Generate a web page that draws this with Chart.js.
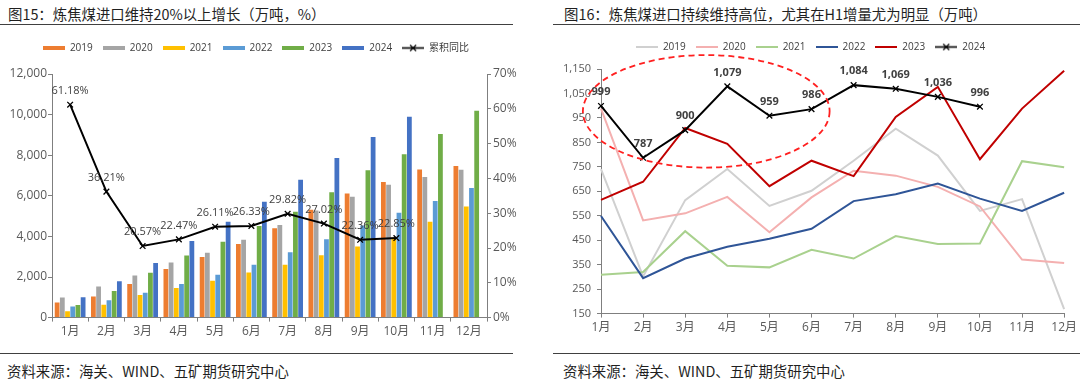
<!DOCTYPE html>
<html>
<head>
<meta charset="utf-8">
<script src="https://cdn.jsdelivr.net/npm/chart.js@4.4.1/dist/chart.umd.min.js"></script>
<style>
  body { margin: 0; background: #fff; width: 1080px; height: 381px; position: relative; overflow: hidden;
         font-family: "Noto Sans CJK SC", sans-serif; }
  .title { position: absolute; top: 3px; font-size: 14.4px; color: #1f1f1f; white-space: nowrap; }
  .rule { position: absolute; height: 0; border-top: 1.5px solid #404040; }
  .src { position: absolute; top: 360px; font-size: 14.4px; color: #1f1f1f; white-space: nowrap; }
  canvas { position: absolute; }
</style>
</head>
<body>
<div class="title" style="left:8px">图15：炼焦煤进口维持20%以上增长（万吨，%）</div>
<div class="rule" style="left:0;width:513px;top:24px"></div>
<div class="title" style="left:564px">图16：炼焦煤进口持续维持高位，尤其在H1增量尤为明显（万吨）</div>
<div class="rule" style="left:553px;width:527px;top:24px"></div>

<canvas id="cumChart" width="540" height="312" style="left:0;top:33px"></canvas>
<canvas id="monthChart" width="540" height="312" style="left:540px;top:32px"></canvas>

<div class="rule" style="left:0;width:513px;top:353px"></div>
<div class="src" style="left:7px">资料来源：海关、WIND、五矿期货研究中心</div>
<div class="rule" style="left:553px;width:527px;top:353px"></div>
<div class="src" style="left:563px">资料来源：海关、WIND、五矿期货研究中心</div>

<script>
// categories
const months = ['1月', '2月', '3月', '4月', '5月', '6月', '7月', '8月', '9月', '10月', '11月', '12月'];
const years = ['2019', '2020', '2021', '2022', '2023', '2024'];

// cumulative imports (万吨)
const cum2019 = [740, 1040, 1650, 2390, 2980, 3630, 4400, 5310, 6110, 6680, 7300, 7470];
const cum2020 = [990, 1530, 2080, 2710, 3200, 3830, 4560, 5280, 5950, 6540, 6920, 7280];
const cum2021 = [310, 630, 1110, 1460, 1810, 2220, 2600, 3070, 3500, 3940, 4720, 5470];
const cum2022 = [550, 850, 1230, 1650, 2110, 2600, 3220, 3860, 4540, 5160, 5740, 6390];
const cum2023 = [620, 1310, 2210, 3060, 3740, 4510, 5220, 6180, 7260, 8050, 9040, 10190];
const cum2024 = [1000, 1790, 2690, 3770, 4720, 5710, 6790, 7860, 8900, 9900];
// cumulative yoy (%)
const cumYoY = [61.18, 36.21, 20.57, 22.47, 26.11, 26.33, 29.82, 27.02, 22.36, 22.85];

// monthly imports (万吨)
const mon2019 = [741, 302, 614, 741, 590, 652, 775, 906, 796, 570, 618, 168];
const mon2020 = [988, 531, 560, 627, 483, 625, 734, 714, 668, 588, 371, 357];
const mon2021 = [309, 320, 487, 346, 339, 411, 375, 467, 435, 437, 773, 748];
const mon2022 = [549, 295, 375, 423, 456, 497, 610, 638, 682, 620, 570, 644];
const mon2023 = [615, 689, 909, 844, 671, 775, 712, 954, 1077, 781, 988, 1143];
const mon2024 = [999, 787, 900, 1079, 959, 986, 1084, 1069, 1036, 996];

// ticks
const cumTicks = [0, 2000, 4000, 6000, 8000, 10000, 12000];
const yoyTicks = [0, 10, 20, 30, 40, 50, 60, 70];
const monTicks = [150, 250, 350, 450, 550, 650, 750, 850, 950, 1050, 1150];

// H1 highlight area, in data units (category index / 万吨)
const h1From = -0.43, h1To = 5.43, h1Low = 747, h1High = 1207;

const barColors = ['#ED7D31', '#A5A5A5', '#FFC000', '#5B9BD5', '#70AD47', '#4472C4'];
const lineColors = ['#D0D0D0', '#F4B0B0', '#A9D18E', '#2F5597', '#C00000', '#000000'];

const numFont = 'Open Sans, "Noto Sans CJK SC", sans-serif';
const axisColor = '#7f7f7f';
const tickColor = '#595959';

function swatch(color, w, h) {
    const c = document.createElement('canvas');
    c.width = w; c.height = h;
    const g = c.getContext('2d');
    g.fillStyle = color;
    g.fillRect(0, 0, w, h);
    return c;
}
function crossSwatch(color) {
    const c = document.createElement('canvas');
    c.width = 22; c.height = 9;
    const g = c.getContext('2d');
    g.strokeStyle = color;
    g.lineWidth = 1.6;
    g.beginPath(); g.moveTo(0, 4.5); g.lineTo(22, 4.5); g.stroke();
    g.lineWidth = 1.2;
    g.beginPath();
    g.moveTo(8, 1.5); g.lineTo(14, 7.5);
    g.moveTo(14, 1.5); g.lineTo(8, 7.5);
    g.stroke();
    return c;
}

// extra room under the legend, and a sideways nudge of the legend row
function legendPush(extra, shift) {
    return {
        id: 'legendPush',
        beforeInit(chart) {
            const fit = chart.legend.fit;
            chart.legend.fit = function () {
                fit.bind(chart.legend)();
                this.height += extra;
            };
        },
        afterLayout(chart) {
            chart.legend.left += shift;
            chart.legend.right += shift;
        }
    };
}

const pointLabels = {
    id: 'pointLabels',
    afterDatasetsDraw(chart) {
        const ctx = chart.ctx;
        chart.data.datasets.forEach((ds, i) => {
            if (!ds.labelFormat) return;
            const meta = chart.getDatasetMeta(i);
            ctx.save();
            ctx.font = ds.labelFont;
            ctx.fillStyle = '#404040';
            ctx.textAlign = 'center';
            ctx.textBaseline = 'middle';
            meta.data.forEach((pt, j) => {
                const v = ds.data[j];
                if (v == null) return;
                ctx.fillText(ds.labelFormat(v), pt.x, pt.y - 14);
            });
            ctx.restore();
        });
    }
};

const h1Ellipse = {
    id: 'h1Ellipse',
    afterDatasetsDraw(chart) {
        const x = chart.scales.x, y = chart.scales.y;
        const x0 = x.getPixelForValue(h1From), x1 = x.getPixelForValue(h1To);
        const y0 = y.getPixelForValue(h1High), y1 = y.getPixelForValue(h1Low);
        const ctx = chart.ctx;
        ctx.save();
        ctx.strokeStyle = '#FF2020';
        ctx.lineWidth = 1.8;
        ctx.setLineDash([6, 4]);
        ctx.beginPath();
        ctx.ellipse((x0 + x1) / 2, (y0 + y1) / 2, (x1 - x0) / 2, (y1 - y0) / 2, 0, 0, Math.PI * 2);
        ctx.stroke();
        ctx.restore();
    }
};

function axisGrid() {
    return { display: true, drawOnChartArea: false, drawTicks: true, tickLength: 4, color: axisColor };
}

// ---------- left: cumulative bars + yoy line ----------
const cumSeries = [cum2019, cum2020, cum2021, cum2022, cum2023, cum2024];
const cumDatasets = cumSeries.map((d, i) => ({
    type: 'bar',
    label: years[i],
    data: d,
    backgroundColor: barColors[i],
    yAxisID: 'y',
    categoryPercentage: 0.86,
    barPercentage: 0.92,
    order: 1
}));
cumDatasets.push({
    type: 'line',
    label: '累积同比',
    data: cumYoY,
    yAxisID: 'y1',
    borderColor: '#000',
    borderWidth: 2,
    pointStyle: 'crossRot',
    pointRadius: 4,
    pointBorderColor: '#000',
    pointBorderWidth: 1.3,
    tension: 0,
    order: 0,
    labelFormat: v => v.toFixed(2) + '%',
    labelFont: '11px ' + numFont
});

new Chart(document.getElementById('cumChart'), {
    data: { labels: months, datasets: cumDatasets },
    options: {
        responsive: false,
        animation: false,
        layout: { padding: { left: 0, right: 0, top: 0, bottom: 3 } },
        plugins: {
            tooltip: { enabled: false },
            legend: {
                position: 'top',
                labels: {
                    usePointStyle: true,
                    pointStyleWidth: 22,
                    padding: 10,
                    color: '#404040',
                    font: { size: 10, family: numFont },
                    generateLabels(chart) {
                        return chart.data.datasets.map((ds, i) => ({
                            text: ds.label,
                            pointStyle: ds.type === 'line' ? crossSwatch('#000') : swatch(ds.backgroundColor, 22, 4),
                            fillStyle: 'transparent',
                            strokeStyle: 'transparent',
                            lineWidth: 0,
                            fontColor: '#404040',
                            hidden: false,
                            datasetIndex: i
                        }));
                    }
                }
            }
        },
        scales: {
            x: {
                grid: Object.assign(axisGrid(), { offset: true }),
                border: { color: axisColor },
                ticks: { color: tickColor, font: { size: 12, family: numFont }, padding: 3, maxRotation: 0 }
            },
            y: {
                position: 'left',
                min: cumTicks[0],
                max: cumTicks[cumTicks.length - 1],
                afterBuildTicks(s) { s.ticks = cumTicks.map(v => ({ value: v })); },
                afterFit(s) { s.width = 52; },
                grid: axisGrid(),
                border: { color: axisColor },
                ticks: { color: tickColor, font: { size: 12, family: numFont }, padding: 1,
                         callback: v => v.toLocaleString('en-US') }
            },
            y1: {
                position: 'right',
                min: yoyTicks[0],
                max: yoyTicks[yoyTicks.length - 1],
                afterBuildTicks(s) { s.ticks = yoyTicks.map(v => ({ value: v })); },
                afterFit(s) { s.width = 53; },
                grid: axisGrid(),
                border: { color: axisColor },
                ticks: { color: tickColor, font: { size: 12, family: numFont }, padding: 2,
                         callback: v => v + '%' }
            }
        }
    },
    plugins: [legendPush(11, -14), pointLabels]
});

// ---------- right: monthly lines ----------
const monSeries = [mon2019, mon2020, mon2021, mon2022, mon2023, mon2024];
const monDatasets = monSeries.map((d, i) => ({
    type: 'line',
    label: years[i],
    data: d,
    borderColor: lineColors[i],
    backgroundColor: lineColors[i],
    borderWidth: 2,
    tension: 0,
    pointRadius: 0,
    order: 5 - i
}));
Object.assign(monDatasets[5], {
    pointStyle: 'crossRot',
    pointRadius: 4,
    pointBorderColor: '#000',
    pointBorderWidth: 1.3,
    labelFormat: v => v.toLocaleString('en-US'),
    labelFont: 'bold 11px ' + numFont
});

new Chart(document.getElementById('monthChart'), {
    type: 'line',
    data: { labels: months, datasets: monDatasets },
    options: {
        responsive: false,
        animation: false,
        layout: { padding: { left: 0, right: 15, top: 0, bottom: 6 } },
        plugins: {
            tooltip: { enabled: false },
            legend: {
                position: 'top',
                labels: {
                    usePointStyle: true,
                    pointStyleWidth: 22,
                    padding: 10,
                    color: '#404040',
                    font: { size: 10, family: numFont },
                    generateLabels(chart) {
                        return chart.data.datasets.map((ds, i) => ({
                            text: ds.label,
                            pointStyle: i === 5 ? crossSwatch('#000') : swatch(ds.borderColor, 22, 2),
                            fillStyle: 'transparent',
                            strokeStyle: 'transparent',
                            lineWidth: 0,
                            fontColor: '#404040',
                            hidden: false,
                            datasetIndex: i
                        }));
                    }
                }
            }
        },
        scales: {
            x: {
                offset: false,
                grid: axisGrid(),
                border: { color: axisColor },
                ticks: { color: tickColor, font: { size: 12, family: numFont }, padding: 3, maxRotation: 0 }
            },
            y: {
                min: monTicks[0],
                max: monTicks[monTicks.length - 1],
                afterBuildTicks(s) { s.ticks = monTicks.map(v => ({ value: v })); },
                afterFit(s) { s.width = 61; },
                grid: axisGrid(),
                border: { color: axisColor },
                ticks: { color: tickColor, font: { size: 11, family: numFont }, padding: 6,
                         callback: v => v.toLocaleString('en-US') }
            }
        }
    },
    plugins: [legendPush(7, 8), pointLabels, h1Ellipse]
});
</script>
</body>
</html>
